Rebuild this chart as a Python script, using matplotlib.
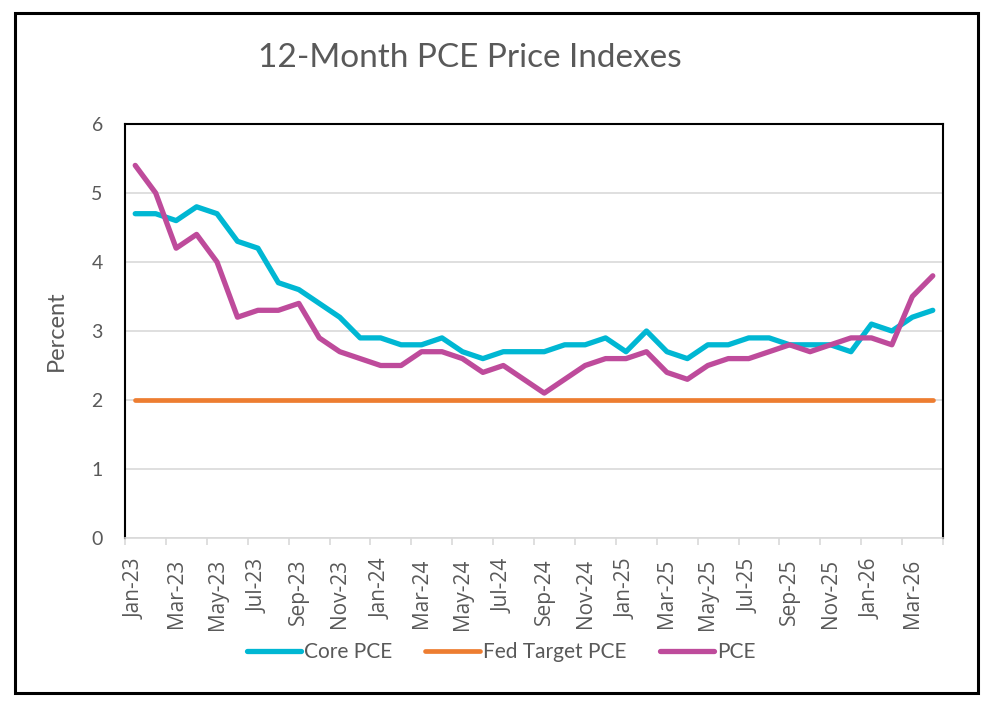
import matplotlib
matplotlib.use("Agg")
import matplotlib.pyplot as plt
from matplotlib.patches import Rectangle
import pandas as pd

plt.rcParams["font.family"] = ["Lato", "DejaVu Sans"]

# monthly data, Jan-23 .. Apr-26
months = pd.date_range("2023-01-01", periods=40, freq="MS")
month_labels = [d.strftime("%b-%y") for d in months]

core_pce = [4.7, 4.7, 4.6, 4.8, 4.7, 4.3, 4.2, 3.7, 3.6, 3.4, 3.2, 2.9,
            2.9, 2.8, 2.8, 2.9, 2.7, 2.6, 2.7, 2.7, 2.7, 2.8, 2.8, 2.9,
            2.7, 3.0, 2.7, 2.6, 2.8, 2.8, 2.9, 2.9, 2.8, 2.8, 2.8, 2.7,
            3.1, 3.0, 3.2, 3.3]
pce = [5.4, 5.0, 4.2, 4.4, 4.0, 3.2, 3.3, 3.3, 3.4, 2.9, 2.7, 2.6,
       2.5, 2.5, 2.7, 2.7, 2.6, 2.4, 2.5, 2.3, 2.1, 2.3, 2.5, 2.6,
       2.6, 2.7, 2.4, 2.3, 2.5, 2.6, 2.6, 2.7, 2.8, 2.7, 2.8, 2.9,
       2.9, 2.8, 3.5, 3.8]
fed_target = [2.0] * len(months)

txt = "#595959"

fig = plt.figure(figsize=(9.88, 7.02), dpi=100)
ax = fig.add_axes([125 / 988, 1 - 538 / 702, 818 / 988, 414 / 702])

x = list(range(len(months)))
ax.plot(x, core_pce, color="#00B7D3", lw=3.8, solid_capstyle="round",
        solid_joinstyle="round", label="Core PCE", zorder=3)
ax.plot(x, fed_target, color="#ED7D31", lw=3.4, solid_capstyle="round",
        label="Fed Target PCE", zorder=3)
ax.plot(x, pce, color="#BE4B9B", lw=3.8, solid_capstyle="round",
        solid_joinstyle="round", label="PCE", zorder=4)

ax.set_xlim(-0.5, len(months) - 0.5)
ax.set_ylim(0, 6)
ax.set_yticks(range(0, 7))
ax.grid(axis="y", color="#D9D9D9", lw=1.2)
ax.set_axisbelow(True)

# labels every other month at the centres, tick marks at the boundaries
ax.set_xticks(x[::2])
ax.set_xticks([i - 0.5 for i in range(0, len(months) + 1, 2)], minor=True)
ax.tick_params(axis="x", which="major", length=0, pad=15, labelsize=15,
               labelcolor=txt)
ax.tick_params(axis="x", which="minor", length=5, color="#D9D9D9", width=1.2)
ax.tick_params(axis="y", length=0, pad=16, labelsize=14, labelcolor=txt)
ax.set_xticklabels(month_labels[::2], rotation=90,
                   fontfamily=["Open Sans", "DejaVu Sans"])

for s in ["top", "left", "right"]:
    ax.spines[s].set_color("black")
    ax.spines[s].set_linewidth(1.5)
ax.spines["bottom"].set_color("#D9D9D9")
ax.spines["bottom"].set_linewidth(1.2)

ax.set_ylabel("Percent", fontsize=17, color=txt)
ax.yaxis.set_label_coords(-0.071, 0.5)

fig.text(470 / 988, 1 - 58 / 702, "12-Month PCE Price Indexes",
         ha="center", va="center", fontsize=24, color=txt)

fig.legend(loc="center", bbox_to_anchor=(0.507, 1 - 652 / 702), ncol=3,
           frameon=False, fontsize=15, handlelength=2.6, handletextpad=0.15,
           columnspacing=1.6, labelcolor=txt)

fig.patches.append(Rectangle((15 / 988, 1 - 693 / 702), 963 / 988, 680 / 702,
                             transform=fig.transFigure, fill=False,
                             edgecolor="black", lw=2.2))

fig.savefig("out.png", dpi=100)
